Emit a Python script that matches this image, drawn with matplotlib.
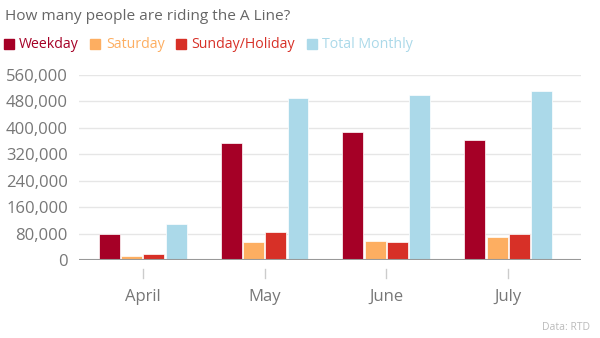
import matplotlib
matplotlib.use("Agg")
import matplotlib.pyplot as plt
import matplotlib.transforms as mtransforms
from matplotlib.lines import Line2D
import numpy as np

plt.rcParams['font.family'] = ['Open Sans', 'DejaVu Sans']

months = ["April", "May", "June", "July"]
series_names = ["Weekday", "Saturday", "Sunday/Holiday", "Total Monthly"]
weekday = [80000, 355000, 388000, 362000]
saturday = [13000, 55000, 57500, 70000]
sunday = [17000, 84000, 55000, 80000]
total = [108000, 491000, 500000, 512000]
colors = ["#a50026", "#fdae61", "#d73027", "#abd9e9"]
yticks = [0, 80000, 160000, 240000, 320000, 400000, 480000, 560000]

W, H = 600, 338
fig = plt.figure(figsize=(W / 100, H / 100), dpi=100)
ax = fig.add_axes([79 / W, 1 - 260 / H, (581 - 79) / W, 185 / H])

x = np.arange(len(months))
slot = 0.183
bw = 0.172
data = [weekday, saturday, sunday, total]
for i, (vals, c) in enumerate(zip(data, colors)):
    ax.bar(x + (i - 1.5) * slot, vals, width=bw, color=c, edgecolor="white",
           linewidth=0.5, zorder=3)

ax.set_xlim(-0.523, 3.597)
ax.set_ylim(0, 560000)
ax.set_yticks(yticks)
ax.set_yticklabels([f"{v:,}" for v in yticks])
ax.grid(axis="y", color="#e6e6e6", linewidth=1, zorder=0)
ax.set_axisbelow(True)
for s in ax.spines.values():
    s.set_visible(False)
ax.axhline(0, color="#999999", linewidth=1.5, zorder=4)
ax.tick_params(axis="y", length=0, pad=8, labelsize=12, labelcolor="#777777")
ax.set_xticks(x)
ax.set_xticklabels(months)
ax.tick_params(axis="x", length=0, pad=21, labelsize=12, labelcolor="#777777")

trans = mtransforms.blended_transform_factory(ax.transData, ax.transAxes)
for xi in x:
    ax.plot([xi, xi], [-0.049, -0.097], color="#cccccc", linewidth=1,
            transform=trans, clip_on=False)

fig.text(5 / W, 1 - 17 / H, "How many people are riding the A Line?", fontsize=11.1,
         color="#666666", va="center", ha="left")

handles = [Line2D([], [], marker="s", linestyle="none", markersize=7,
                  markerfacecolor=c, markeredgecolor=c) for c in colors]
leg = fig.legend(handles, series_names, loc="center left",
                 bbox_to_anchor=(0, 1 - 45 / H), ncol=4, frameon=False,
                 fontsize=10.2, handlelength=0.8, handletextpad=0.35,
                 columnspacing=0.75, borderaxespad=0, borderpad=0.2)
for t, c in zip(leg.get_texts(), colors):
    t.set_color(c)

fig.text(590 / W, 1 - 327 / H, "Data: RTD", fontsize=7.5, color="#bbbbbb",
         ha="right", va="center")

fig.savefig("out.png", dpi=100)
